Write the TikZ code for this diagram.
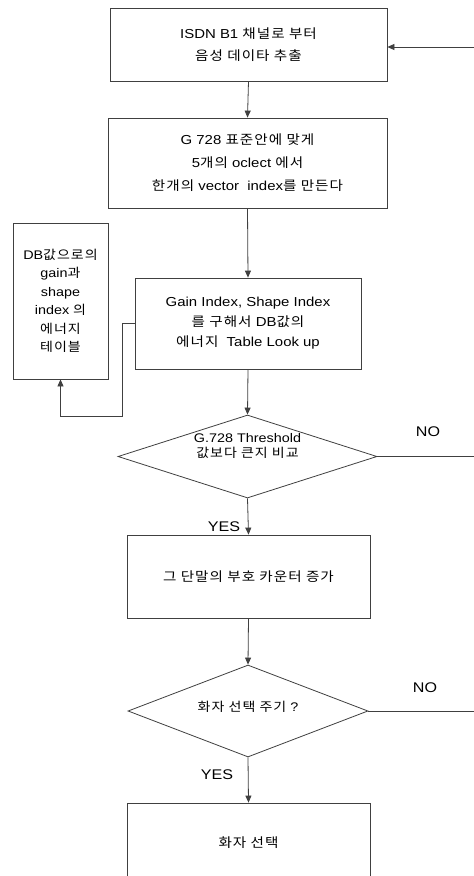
\documentclass[tikz,border=0pt]{standalone}
\usepackage{fontspec}
\setmainfont{Liberation Sans}[FakeStretch=1.15]
\newfontfamily\krfont{Noto Sans CJK KR}[FakeStretch=1.12,LetterSpace=8]
\newcommand\K[1]{{\krfont #1}}
\usetikzlibrary{shapes.geometric,arrows.meta}
\begin{document}
\begin{tikzpicture}[x=1pt,y=-1pt,
  every node/.style={font=\fontsize{13}{22}\selectfont},
  procbox/.style={draw=black!75,line width=0.8pt,rectangle,inner sep=0pt,align=center},
  decbox/.style={draw=black!75,line width=0.8pt,diamond,inner sep=0pt},
  dtext/.style={align=center,inner sep=0pt},
  lbl/.style={inner sep=0pt,font=\fontsize{14}{16}\selectfont},
  conn/.style={draw=black!75,line width=0.8pt},
  arr/.style={conn,-{Triangle[width=6pt,length=7pt]}}]
\useasboundingbox (0,0) rectangle (474,876);
\clip (0,0) rectangle (474,876);
\fill[white] (0,0) rectangle (474,876);

\node[procbox,minimum width=277pt,minimum height=73pt] (box1) at (248.5,44.5)
  {ISDN B1 \K{채널로 부터}\\\K{음성 데이타 추출}};
\node[procbox,minimum width=279pt,minimum height=90pt,font=\fontsize{13}{23}\selectfont] (box2) at (247.5,163)
  {G 728 \K{표준안에 맞게}\\5\K{개의} oclect \K{에서}\\\K{한개의} vector\ \ index\K{를 만든다}};
\node[procbox,minimum width=95pt,minimum height=156pt,font=\fontsize{12.5}{18.5}\selectfont] (lb) at (60.5,301)
  {DB\K{값으로의}\\gain\K{과}\\shape\\index \K{의}\\\K{에너지}\\\K{테이블}};
\node[procbox,minimum width=226pt,minimum height=91pt,font=\fontsize{13}{20}\selectfont] (box3) at (248,323.5)
  {Gain Index, Shape Index\\\K{를 구해서} DB\K{값의}\\\K{에너지}\ \ Table Look up};

\node[decbox,minimum width=259pt,minimum height=83pt] (d1) at (247.5,456.5) {};
\node[dtext,font=\fontsize{12.5}{15}\selectfont] (d1t) at (247.5,446) {G.728 Threshold\\\K{값보다 큰지 비교}};

\node[procbox,minimum width=243pt,minimum height=83pt] (box4) at (248.5,576.5)
  {\K{그 단말의 부호 카운터 증가}};

\node[decbox,minimum width=240pt,minimum height=92pt] (d2) at (248,711) {};
\node[dtext,font=\fontsize{12.5}{14}\selectfont] (d2t) at (248,707) {\K{화자 선택 주기} ?};

\node[procbox,minimum width=243pt,minimum height=80pt] (box5) at (248.5,843)
  {\K{화자 선택}};

% connectors
\coordinate (in1) at (474,47);
\draw[arr] (in1) -- (in1 -| box1.east);
\draw[arr] (box1.south) -- (box2.north);
\draw[arr] (box2.south) -- (box3.north);
\coordinate (c1) at (122,416);
\draw[arr] (box3.west) -| (c1) -| (lb.south);
\draw[arr] (box3.south) -- (d1.north);

\coordinate (no1) at (474,456.5);
\draw[conn] (d1.east) -- (no1);
\node[lbl] (no1t) at (428,432) {NO};
\draw[arr] (d1.south) -- (box4.north);
\node[lbl] (yes1) at (224,527) {YES};

\draw[arr] (box4.south) -- (d2.north);
\coordinate (no2) at (474,711);
\draw[conn] (d2.east) -- (no2);
\node[lbl] (no2t) at (425,688) {NO};
\draw[arr] (d2.south) -- (box5.north);
\node[lbl] (yes2) at (217,775) {YES};
\end{tikzpicture}
\end{document}
